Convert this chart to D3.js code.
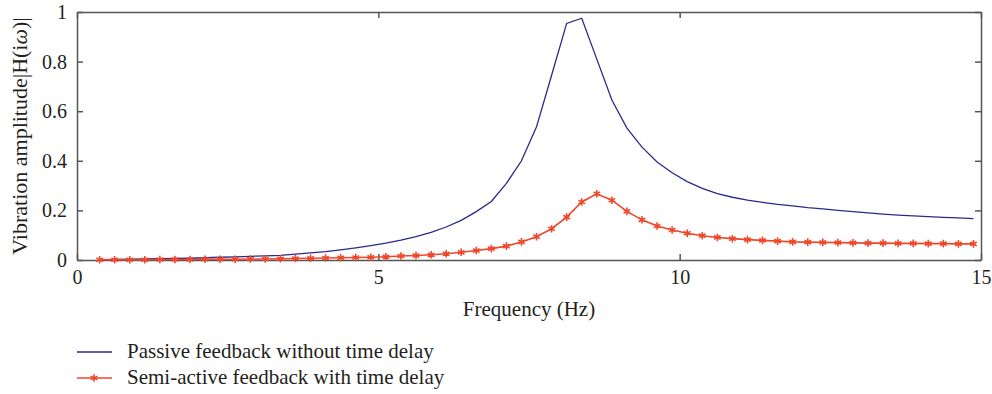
<!DOCTYPE html>
<html>
<head>
<meta charset="utf-8">
<script src="https://cdn.jsdelivr.net/npm/d3@7"></script>
<style>
  body { margin: 0; background: #fff; }
  svg text { font-family: "Liberation Serif", "DejaVu Serif", serif; fill: #231f20; }
</style>
</head>
<body>
<svg width="992" height="394"></svg>
<script>
// frequency grid (Hz), shared by both curves
var freq = [0.375, 0.625, 0.875, 1.125, 1.375, 1.625, 1.875, 2.125, 2.375, 2.625,
  2.875, 3.125, 3.375, 3.625, 3.875, 4.125, 4.375, 4.625, 4.875, 5.125,
  5.375, 5.625, 5.875, 6.125, 6.375, 6.625, 6.875, 7.125, 7.375, 7.625,
  7.875, 8.125, 8.375, 8.625, 8.875, 9.125, 9.375, 9.625, 9.875, 10.125,
  10.375, 10.625, 10.875, 11.125, 11.375, 11.625, 11.875, 12.125, 12.375, 12.625,
  12.875, 13.125, 13.375, 13.625, 13.875, 14.125, 14.375, 14.625, 14.875];

var passive = [0.001, 0.002, 0.003, 0.004, 0.005, 0.006, 0.007, 0.009, 0.011, 0.013,
  0.015, 0.017, 0.019, 0.024, 0.029, 0.034, 0.041, 0.049, 0.058, 0.068,
  0.080, 0.094, 0.111, 0.133, 0.160, 0.195, 0.236, 0.309, 0.400, 0.537,
  0.745, 0.954, 0.975, 0.810, 0.645, 0.532, 0.455, 0.395, 0.352, 0.316,
  0.289, 0.268, 0.253, 0.241, 0.232, 0.224, 0.218, 0.211, 0.206, 0.200,
  0.195, 0.190, 0.185, 0.181, 0.178, 0.175, 0.172, 0.170, 0.167];

var semiActive = [0.001, 0.001, 0.001, 0.001, 0.002, 0.002, 0.002, 0.003, 0.003, 0.003,
  0.004, 0.004, 0.005, 0.006, 0.007, 0.008, 0.009, 0.010, 0.011, 0.013,
  0.016, 0.018, 0.021, 0.025, 0.031, 0.038, 0.046, 0.056, 0.073, 0.094,
  0.126, 0.173, 0.234, 0.267, 0.241, 0.196, 0.162, 0.137, 0.121, 0.108,
  0.098, 0.091, 0.086, 0.082, 0.079, 0.076, 0.073, 0.072, 0.071, 0.070,
  0.069, 0.068, 0.068, 0.067, 0.067, 0.066, 0.066, 0.065, 0.065];

var xTicks = [0, 5, 10, 15];
var yTicks = [0, 0.2, 0.4, 0.6, 0.8, 1];
var legendLabels = ["Passive feedback without time delay", "Semi-active feedback with time delay"];

var svg = d3.select("svg");

var mLeft = 77, mRight = 981, mTop = 12, mBottom = 260;

var x = d3.scaleLinear().domain([0, 15]).range([mLeft, mRight]);
var y = d3.scaleLinear().domain([0, 1]).range([mBottom, mTop]);

var blue = "#2b2a8a", red = "#f0462a", axisColor = "#555";

// inside ticks on all four sides
var tickLen = 6;
svg.append("g").attr("transform", "translate(0," + mBottom + ")")
    .call(d3.axisBottom(x).tickValues(xTicks).tickSize(-tickLen).tickSizeOuter(0).tickPadding(10).tickFormat(d3.format("d")))
    .call(styleAxis);
svg.append("g").attr("transform", "translate(0," + mTop + ")")
    .call(d3.axisTop(x).tickValues(xTicks).tickSize(-tickLen).tickSizeOuter(0).tickFormat(""))
    .call(styleAxis);
svg.append("g").attr("transform", "translate(" + mLeft + ",0)")
    .call(d3.axisLeft(y).tickValues(yTicks).tickSize(-tickLen).tickSizeOuter(0).tickPadding(10).tickFormat(function(d) { return d; }))
    .call(styleAxis);
svg.append("g").attr("transform", "translate(" + mRight + ",0)")
    .call(d3.axisRight(y).tickValues(yTicks).tickSize(-tickLen).tickSizeOuter(0).tickFormat(""))
    .call(styleAxis);

function styleAxis(g) {
  g.select(".domain").attr("stroke", axisColor).attr("stroke-width", 1.5);
  g.selectAll(".tick line").attr("stroke", axisColor).attr("stroke-width", 1.5);
  g.selectAll(".tick text").attr("font-size", 20).attr("font-family", "Liberation Serif").attr("fill", "#231f20");
}

var line = d3.line()
    .x(function(d, i) { return x(freq[i]); })
    .y(function(d) { return y(d); });

svg.append("path")
    .datum(passive)
    .attr("fill", "none")
    .attr("stroke", blue)
    .attr("stroke-width", 1.3)
    .attr("d", line);

svg.append("path")
    .datum(semiActive)
    .attr("fill", "none")
    .attr("stroke", red)
    .attr("stroke-width", 1.6)
    .attr("d", line);

var star = d3.symbol().type(d3.symbolAsterisk).size(40);
svg.append("g").selectAll("path")
    .data(semiActive)
  .enter().append("path")
    .attr("transform", function(d, i) { return "translate(" + x(freq[i]) + "," + y(d) + ")"; })
    .attr("d", star)
    .attr("fill", "none")
    .attr("stroke", red)
    .attr("stroke-width", 1.6);

// axis titles
svg.append("text")
    .attr("x", (mLeft + mRight) / 2)
    .attr("y", 316)
    .attr("text-anchor", "middle")
    .attr("font-size", 21)
    .text("Frequency (Hz)");

var yl = svg.append("text")
    .attr("transform", "translate(27," + (mBottom + mTop) / 2 + ") rotate(-90)")
    .attr("text-anchor", "middle")
    .attr("font-size", 22);
yl.append("tspan").text("Vibration amplitude|H(i");
yl.append("tspan").attr("font-style", "italic").text("ω");
yl.append("tspan").text(")|");

// legend
var legend = svg.append("g").selectAll("g")
    .data(legendLabels)
  .enter().append("g")
    .attr("transform", function(d, i) { return "translate(77," + (352 + i * 26) + ")"; });

legend.append("line")
    .attr("x1", 0).attr("x2", 35)
    .attr("stroke", function(d, i) { return i ? red : blue; })
    .attr("stroke-width", function(d, i) { return i ? 1.6 : 1.3; });

legend.filter(function(d, i) { return i === 1; }).append("path")
    .attr("transform", "translate(17,0)")
    .attr("d", star)
    .attr("fill", "none")
    .attr("stroke", red)
    .attr("stroke-width", 1.6);

legend.append("text")
    .attr("x", 50)
    .attr("y", 6)
    .attr("font-size", 21)
    .text(function(d) { return d; });
</script>
</body>
</html>
